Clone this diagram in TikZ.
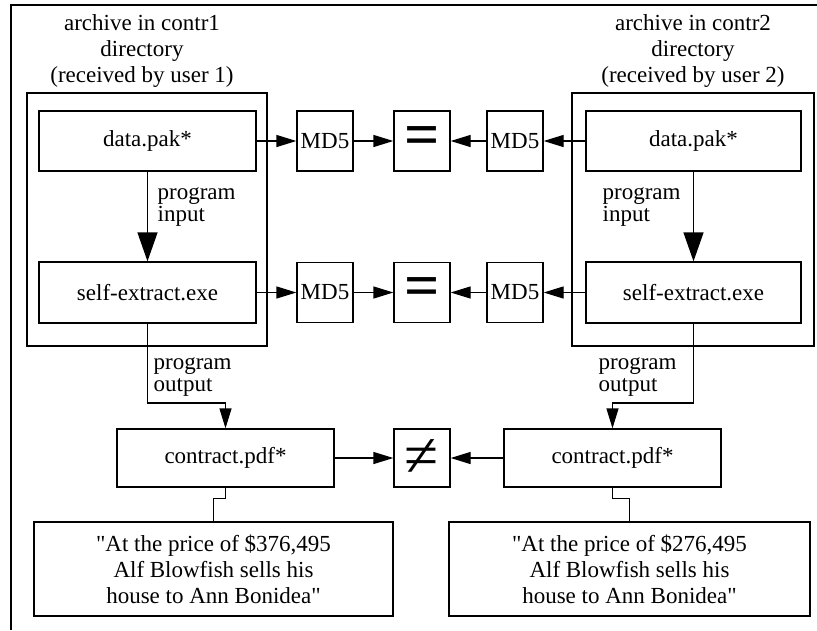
\documentclass[tikz,border=0pt]{standalone}
\usepackage{fontspec}
\setmainfont{Liberation Serif}
\font\qf="Liberation Serif" at 23pt
\newcommand{\sq}{{\qf\symbol{34}}}
\usetikzlibrary{arrows.meta}
\begin{document}
\begin{tikzpicture}[x=1pt,y=-1pt,line width=1.3pt,
  txt/.style={font=\fontsize{23}{26}\selectfont},
  box/.style={draw, inner sep=0pt, txt, align=center},
  cluster/.style={draw, inner sep=0pt},
  cmp/.style={draw, inner sep=0pt, minimum width=56pt, minimum height=60pt},
  tip/.style={-{Triangle[length=20pt,width=12pt]}},
  bigtip/.style={-{Triangle[length=29pt,width=20pt]}},
  lbl/.style={font=\fontsize{23}{22}\selectfont, align=left, anchor=west, inner sep=0pt},
  clbl/.style={txt, align=center, inner sep=0pt}]
\useasboundingbox (0,0) rectangle (817,630);
% outer frame
\draw (817,5) -- (11,5) -- (11,630);
% clusters
\node[cluster, minimum width=240pt, minimum height=253pt] (cl1) at (147,219.5) {};
\node[cluster, minimum width=242pt, minimum height=253pt] (cl2) at (693,219.5) {};
\node[clbl] (cl1lab) at (142,51) {archive in contr1\\directory\\(received by user 1)};
\node[clbl] (cl2lab) at (693,51) {archive in contr2\\directory\\(received by user 2)};
% file boxes
\node[box, minimum width=217pt, minimum height=60pt] (dp1) at (147.5,141) {data.pak*};
\node[box, minimum width=217pt, minimum height=61pt] (se1) at (147.5,292.5) {self-extract.exe};
\node[box, minimum width=215pt, minimum height=60pt] (dp2) at (693.5,141) {data.pak*};
\node[box, minimum width=215pt, minimum height=61pt] (se2) at (693.5,292.5) {self-extract.exe};
% md5 boxes
\node[cmp, txt] (m1a) at (325,141) {MD5};
\node[cmp, txt] (m2a) at (515,141) {MD5};
\node[cmp, txt] (m1b) at (325,292.5) {MD5};
\node[cmp, txt] (m2b) at (515,292.5) {MD5};
% comparison boxes
\node[cmp, font=\fontsize{62}{62}\selectfont\bfseries] (eqa) at (422,141) {=};
\node[cmp, font=\fontsize{62}{62}\selectfont\bfseries] (eqb) at (422,292.5) {=};
\node[cmp, minimum height=58pt, font=\fontsize{62}{62}\selectfont] (neq) at (422,458) {≠};
% contracts
\node[box, minimum width=217pt, minimum height=58pt] (c1) at (225.5,458) {contract.pdf*};
\node[box, minimum width=217pt, minimum height=58pt] (c2) at (612.5,458) {contract.pdf*};
% quotes
\node[box, minimum width=359pt, minimum height=94pt] (q1) at (213.5,569)
  {\sq At the price of \$376,495\\Alf Blowfish sells his\\house to Ann Bonidea\sq};
\node[box, minimum width=361pt, minimum height=94pt] (q2) at (629.5,569)
  {\sq At the price of \$276,495\\Alf Blowfish sells his\\house to Ann Bonidea\sq};
% md5 arrows
\draw[tip] (dp1) -- (m1a);
\draw[tip] (m1a) -- (eqa);
\draw[tip] (dp2) -- (m2a);
\draw[tip] (m2a) -- (eqa);
\draw[tip] (se1) -- (m1b);
\draw[tip] (m1b) -- (eqb);
\draw[tip] (se2) -- (m2b);
\draw[tip] (m2b) -- (eqb);
\draw[tip] (c1) -- (neq);
\draw[tip] (c2) -- (neq);
% program input
\draw[bigtip] (dp1) -- (se1);
\draw[bigtip] (dp2) -- (se2);
\node[lbl] (pi1) at (157,207) {program\\input};
\node[lbl] (pi2) at (602,207) {program\\input};
% program output
\coordinate (k1) at (147.5,403);
\coordinate (k2) at (693.5,403);
\draw[tip] (se1.south) -- (k1) -| (c1.north);
\draw[tip] (se2.south) -- (k2) -| (c2.north);
\node[lbl] (po1) at (153,377) {program\\output};
\node[lbl] (po2) at (598,377) {program\\output};
% contract to quote
\draw (c1.south) -- ++(0,11) -| (q1.north);
\draw (c2.south) -- ++(0,11) -| (q2.north);
\end{tikzpicture}
\end{document}
